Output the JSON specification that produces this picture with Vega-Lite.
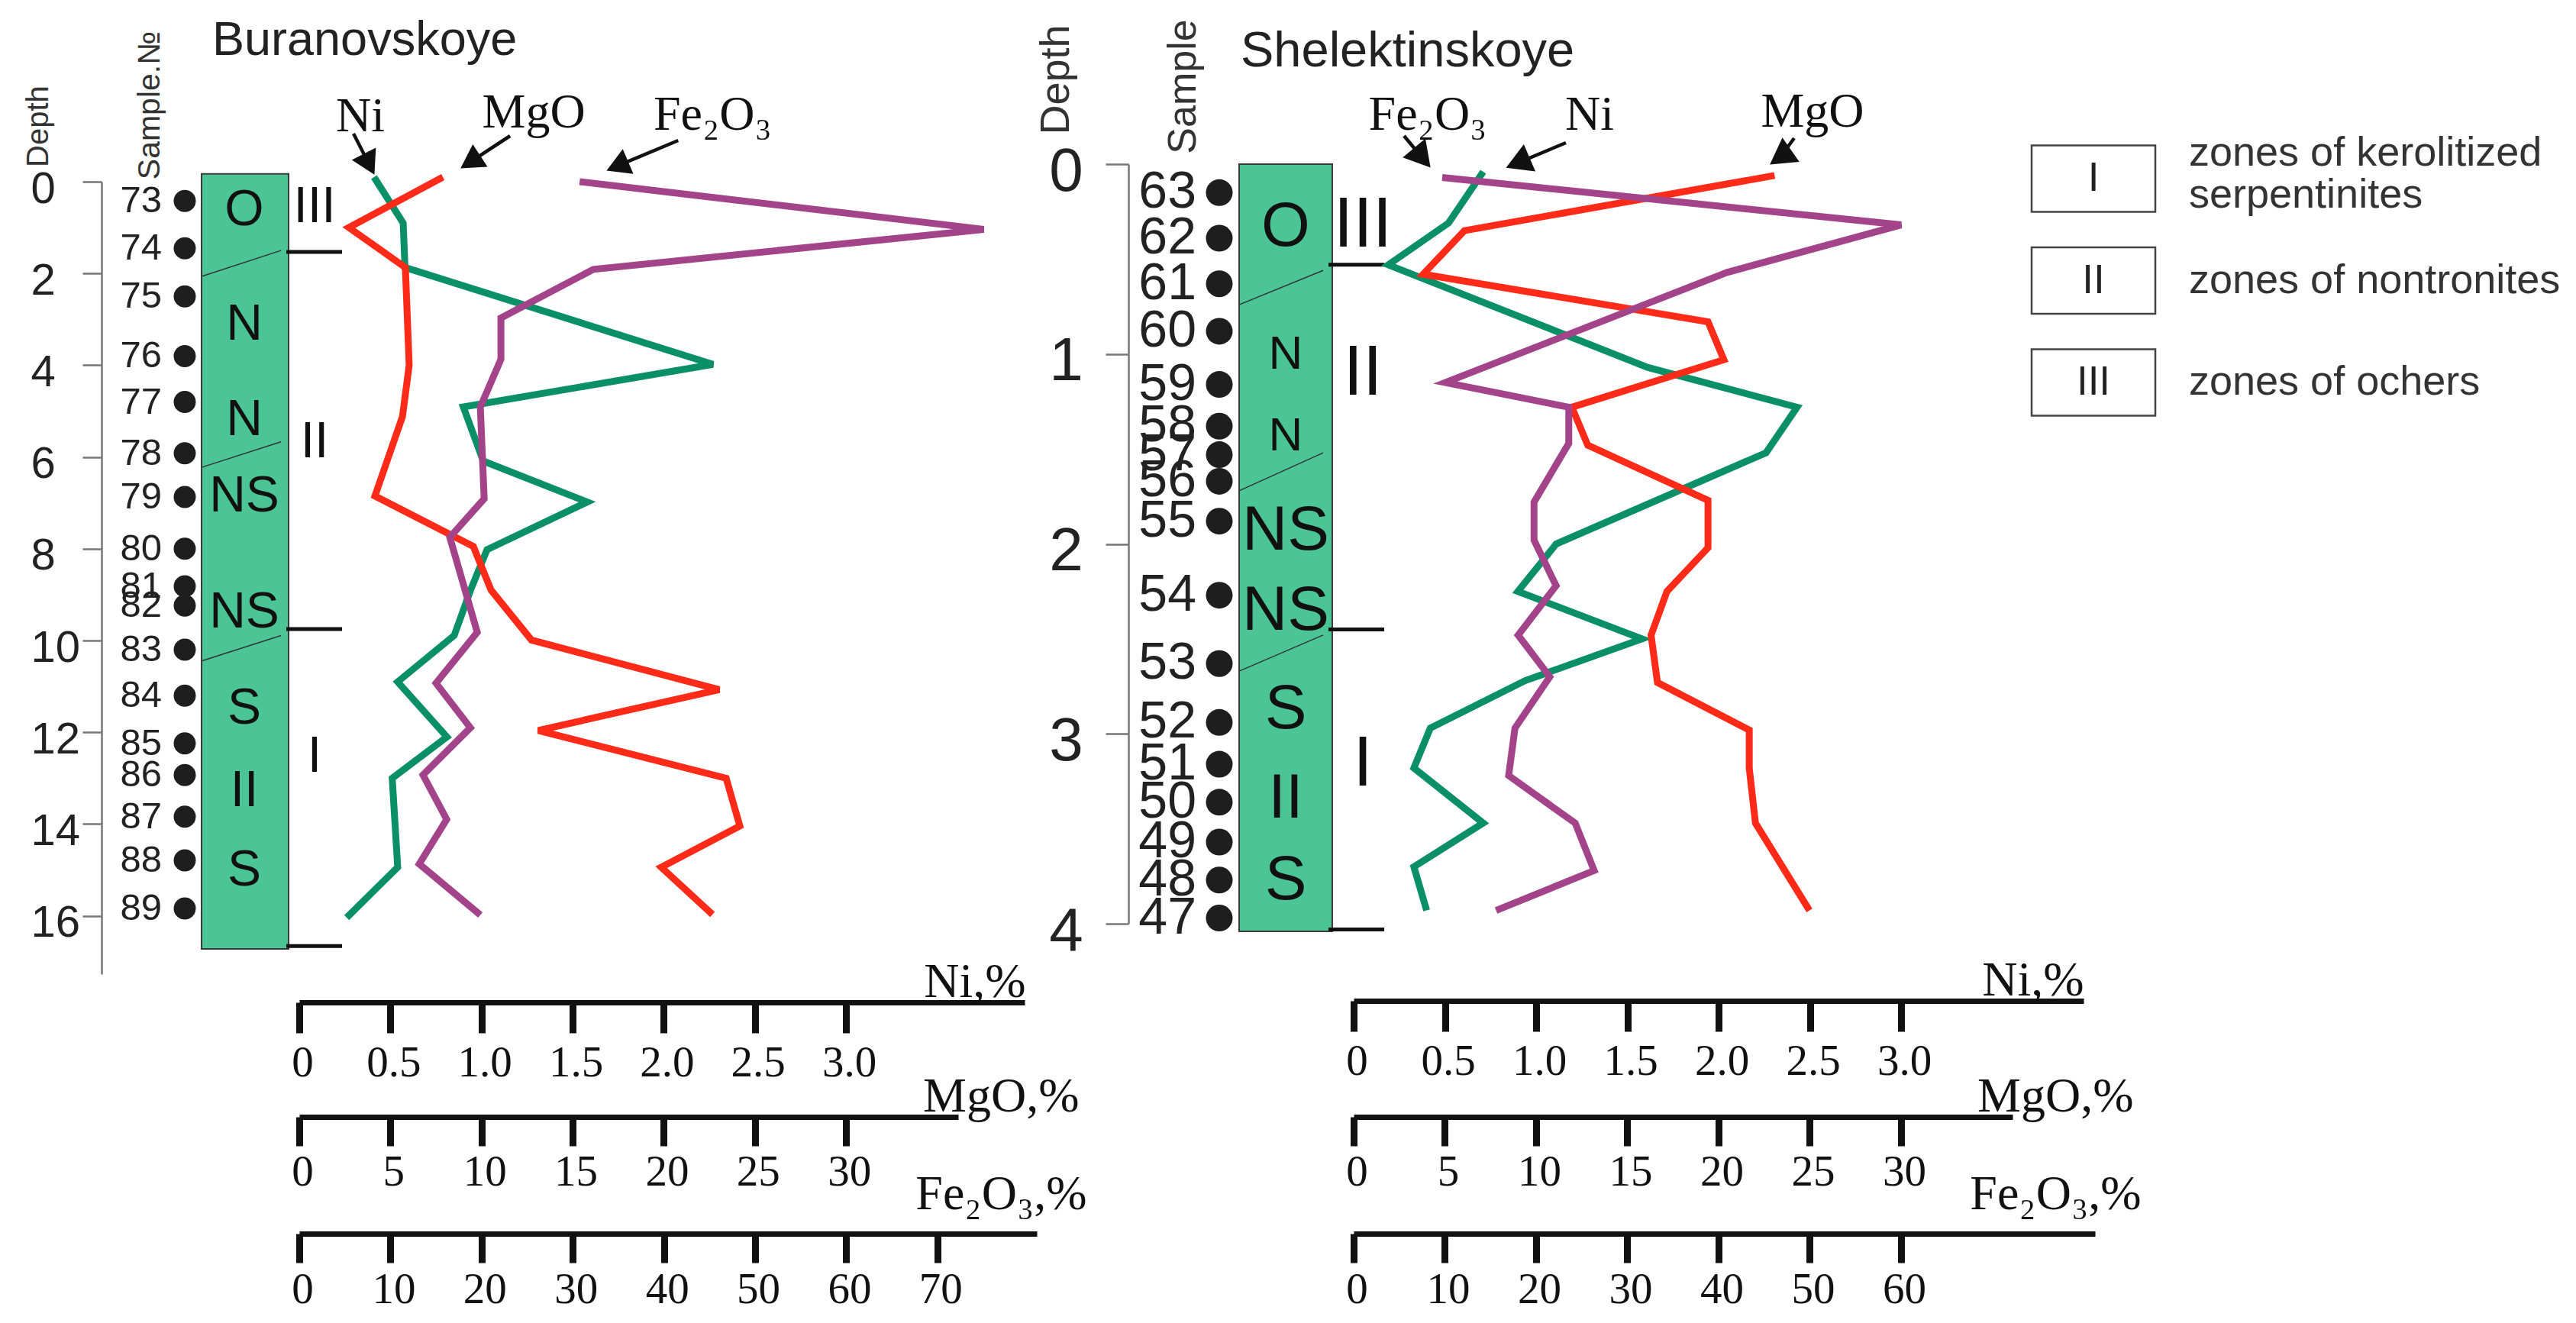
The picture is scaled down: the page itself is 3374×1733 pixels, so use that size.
{
"$schema": "https://vega.github.io/schema/vega-lite/v6.json",
"width": 3374,
"height": 1733,
"autosize": {"type": "none"},
"padding": 0,
"background": "#ffffff",
"config": {"view": {"stroke": null}, "axis": {"grid": false}},
"datasets": {
 "bur_samples": [
  {"sample":"73","depth":0.42},{"sample":"74","depth":1.45},{"sample":"75","depth":2.5},{"sample":"76","depth":3.8},
  {"sample":"77","depth":4.8},{"sample":"78","depth":5.92},{"sample":"79","depth":6.87},{"sample":"80","depth":8.0},
  {"sample":"81","depth":8.82},{"sample":"82","depth":9.24},{"sample":"83","depth":10.2},{"sample":"84","depth":11.2},
  {"sample":"85","depth":12.24},{"sample":"86","depth":12.93},{"sample":"87","depth":13.84},{"sample":"88","depth":14.79},
  {"sample":"89","depth":15.84}
 ],
 "bur_chem": [
  {"element":"Ni","depth":-0.1,"value":0.41},{"element":"Ni","depth":0.9,"value":0.57},{"element":"Ni","depth":1.87,"value":0.58},
  {"element":"Ni","depth":3.98,"value":2.27},{"element":"Ni","depth":4.91,"value":0.9},{"element":"Ni","depth":6.09,"value":1.01},
  {"element":"Ni","depth":6.98,"value":1.58},{"element":"Ni","depth":8.02,"value":1.03},{"element":"Ni","depth":8.9,"value":0.94},
  {"element":"Ni","depth":9.89,"value":0.85},{"element":"Ni","depth":10.9,"value":0.54},{"element":"Ni","depth":12.1,"value":0.81},
  {"element":"Ni","depth":13.0,"value":0.51},{"element":"Ni","depth":14.94,"value":0.54},{"element":"Ni","depth":16.04,"value":0.26},
  {"element":"MgO","depth":-0.1,"value":7.88},{"element":"MgO","depth":1.0,"value":2.72},{"element":"MgO","depth":1.87,"value":5.82},
  {"element":"MgO","depth":4.0,"value":6.03},{"element":"MgO","depth":5.12,"value":5.66},{"element":"MgO","depth":6.85,"value":4.15},
  {"element":"MgO","depth":7.95,"value":9.55},{"element":"MgO","depth":8.9,"value":10.52},{"element":"MgO","depth":9.99,"value":12.74},
  {"element":"MgO","depth":11.07,"value":23.04},{"element":"MgO","depth":11.96,"value":13.11},{"element":"MgO","depth":13.0,"value":23.42},
  {"element":"MgO","depth":14.04,"value":24.17},{"element":"MgO","depth":14.94,"value":19.86},{"element":"MgO","depth":15.97,"value":22.67},
  {"element":"Fe2O3","depth":0.0,"value":30.75},{"element":"Fe2O3","depth":1.04,"value":75.08},{"element":"Fe2O3","depth":1.91,"value":32.26},
  {"element":"Fe2O3","depth":2.97,"value":22.12},{"element":"Fe2O3","depth":3.87,"value":22.12},{"element":"Fe2O3","depth":4.91,"value":19.86},
  {"element":"Fe2O3","depth":6.91,"value":20.28},{"element":"Fe2O3","depth":7.75,"value":16.51},{"element":"Fe2O3","depth":9.82,"value":19.52},
  {"element":"Fe2O3","depth":10.93,"value":15.0},{"element":"Fe2O3","depth":11.9,"value":18.77},{"element":"Fe2O3","depth":12.93,"value":13.57},
  {"element":"Fe2O3","depth":13.9,"value":16.17},{"element":"Fe2O3","depth":14.87,"value":13.16},{"element":"Fe2O3","depth":15.98,"value":19.86}
 ],
 "bur_column": [{"top":-0.17,"bottom":16.72}],
 "bur_litho": [
  {"label":"O","depth":0.62},{"label":"N","depth":3.11},{"label":"N","depth":5.19},{"label":"NS","depth":6.85},
  {"label":"NS","depth":9.38},{"label":"S","depth":11.48},{"label":"II","depth":13.28},{"label":"S","depth":15.0}
 ],
 "bur_contacts": [{"depthLeft":2.06,"depthRight":1.5},{"depthLeft":6.22,"depthRight":5.67},{"depthLeft":10.44,"depthRight":9.89}],
 "bur_zones": [{"zone":"III","labelDepth":0.55,"bottom":1.53},{"zone":"II","labelDepth":5.67,"bottom":9.75},{"zone":"I","labelDepth":12.52,"bottom":16.66}],
 "shl_samples": [
  {"sample":"63","depth":0.15},{"sample":"62","depth":0.39},{"sample":"61","depth":0.63},{"sample":"60","depth":0.88},
  {"sample":"59","depth":1.16},{"sample":"58","depth":1.38},{"sample":"57","depth":1.53},{"sample":"56","depth":1.67},
  {"sample":"55","depth":1.88},{"sample":"54","depth":2.27},{"sample":"53","depth":2.63},{"sample":"52","depth":2.94},
  {"sample":"51","depth":3.16},{"sample":"50","depth":3.36},{"sample":"49","depth":3.57},{"sample":"48","depth":3.77},
  {"sample":"47","depth":3.97}
 ],
 "shl_chem": [
  {"element":"Ni","depth":0.04,"value":0.71},{"element":"Ni","depth":0.31,"value":0.52},{"element":"Ni","depth":0.53,"value":0.19},
  {"element":"Ni","depth":1.07,"value":1.61},{"element":"Ni","depth":1.28,"value":2.43},{"element":"Ni","depth":1.52,"value":2.26},
  {"element":"Ni","depth":2.0,"value":1.11},{"element":"Ni","depth":2.25,"value":0.9},{"element":"Ni","depth":2.5,"value":1.58},
  {"element":"Ni","depth":2.72,"value":0.94},{"element":"Ni","depth":2.97,"value":0.42},{"element":"Ni","depth":3.18,"value":0.33},
  {"element":"Ni","depth":3.47,"value":0.71},{"element":"Ni","depth":3.7,"value":0.33},{"element":"Ni","depth":3.93,"value":0.4},
  {"element":"MgO","depth":0.06,"value":23.07},{"element":"MgO","depth":0.35,"value":6.07},{"element":"MgO","depth":0.58,"value":3.81},
  {"element":"MgO","depth":0.83,"value":19.42},{"element":"MgO","depth":1.03,"value":20.29},{"element":"MgO","depth":1.28,"value":11.96},
  {"element":"MgO","depth":1.48,"value":12.83},{"element":"MgO","depth":1.77,"value":19.42},{"element":"MgO","depth":2.02,"value":19.42},
  {"element":"MgO","depth":2.25,"value":17.17},{"element":"MgO","depth":2.48,"value":16.3},{"element":"MgO","depth":2.73,"value":16.65},
  {"element":"MgO","depth":2.98,"value":21.68},{"element":"MgO","depth":3.18,"value":21.68},{"element":"MgO","depth":3.47,"value":22.02},
  {"element":"MgO","depth":3.93,"value":24.98},
  {"element":"Fe2O3","depth":0.07,"value":9.71},{"element":"Fe2O3","depth":0.32,"value":60.01},{"element":"Fe2O3","depth":0.57,"value":40.93},
  {"element":"Fe2O3","depth":1.15,"value":10.05},{"element":"Fe2O3","depth":1.28,"value":23.58},{"element":"Fe2O3","depth":1.47,"value":23.58},
  {"element":"Fe2O3","depth":1.78,"value":19.77},{"element":"Fe2O3","depth":1.98,"value":19.77},{"element":"Fe2O3","depth":2.22,"value":22.19},
  {"element":"Fe2O3","depth":2.48,"value":18.03},{"element":"Fe2O3","depth":2.7,"value":21.5},{"element":"Fe2O3","depth":2.97,"value":17.68},
  {"element":"Fe2O3","depth":3.22,"value":16.99},{"element":"Fe2O3","depth":3.47,"value":24.28},{"element":"Fe2O3","depth":3.72,"value":26.36},
  {"element":"Fe2O3","depth":3.93,"value":15.61}
 ],
 "shl_column": [{"top":0.0,"bottom":4.04}],
 "shl_litho": [
  {"label":"O","depth":0.33},{"label":"N","depth":1.0},{"label":"N","depth":1.43},{"label":"NS","depth":1.93},
  {"label":"NS","depth":2.35},{"label":"S","depth":2.87},{"label":"II","depth":3.34},{"label":"S","depth":3.77}
 ],
 "shl_contacts": [{"depthLeft":0.74,"depthRight":0.56},{"depthLeft":1.72,"depthRight":1.52},{"depthLeft":2.67,"depthRight":2.48}],
 "shl_zones": [{"zone":"III","labelDepth":0.32,"bottom":0.53},{"zone":"II","labelDepth":1.1,"bottom":2.45},{"zone":"I","labelDepth":3.16,"bottom":4.03}],
 "legend": [
  {"order":1,"zone":"I","description":"zones of kerolitized\nserpentinites"},
  {"order":2,"zone":"II","description":"zones of nontronites"},
  {"order":3,"zone":"III","description":"zones of ochers"}
 ]
},
"layer": [
 {"data":{"name":"bur_column"},"mark":{"type":"rect","fill":"#4BC596","stroke":"#3a3a3a","strokeWidth":2},
  "encoding":{"x":{"datum":-0.5363,"type":"quantitative","scale":{"domain":[0,3.98],"range":[392,1342],"nice":false,"zero":false},"axis":null},"x2":{"datum":-0.0587},
   "y":{"field":"top","type":"quantitative","scale":{"domain":[0,17.27],"range":[238,1276],"nice":false,"zero":false},"axis":null},"y2":{"field":"bottom"}}},
 {"data":{"name":"bur_contacts"},"mark":{"type":"rule","color":"#333333","strokeWidth":1.5},
  "encoding":{"x":{"datum":-0.5321,"type":"quantitative","scale":{"domain":[0,3.98],"range":[392,1342],"nice":false,"zero":false},"axis":null},"x2":{"datum":-0.1005},
   "y":{"field":"depthLeft","type":"quantitative","scale":{"domain":[0,17.27],"range":[238,1276],"nice":false,"zero":false},"axis":null},"y2":{"field":"depthRight"}}},
 {"data":{"name":"bur_litho"},"mark":{"type":"text","font":"Liberation Sans","fontSize":66,"color":"#111111","align":"center","baseline":"middle"},
  "encoding":{"x":{"datum":-0.3016,"type":"quantitative","scale":{"domain":[0,3.98],"range":[392,1342],"nice":false,"zero":false},"axis":null},
   "y":{"field":"depth","type":"quantitative","scale":{"domain":[0,17.27],"range":[238,1276],"nice":false,"zero":false},"axis":null},"text":{"field":"label","type":"nominal"}}},
 {"data":{"name":"bur_zones"},"mark":{"type":"rule","color":"#111111","strokeWidth":5},
  "encoding":{"x":{"datum":-0.0712,"type":"quantitative","scale":{"domain":[0,3.98],"range":[392,1342],"nice":false,"zero":false},"axis":null},"x2":{"datum":0.2346},
   "y":{"field":"bottom","type":"quantitative","scale":{"domain":[0,17.27],"range":[238,1276],"nice":false,"zero":false},"axis":null}}},
 {"data":{"name":"bur_zones"},"mark":{"type":"text","font":"Liberation Sans","fontSize":66,"color":"#111111","align":"center","baseline":"middle"},
  "encoding":{"x":{"datum":0.0838,"type":"quantitative","scale":{"domain":[0,3.98],"range":[392,1342],"nice":false,"zero":false},"axis":null},
   "y":{"field":"labelDepth","type":"quantitative","scale":{"domain":[0,17.27],"range":[238,1276],"nice":false,"zero":false},"axis":null},"text":{"field":"zone","type":"nominal"}}},
 {"data":{"name":"bur_samples"},"mark":{"type":"text","font":"Liberation Sans Narrow, Liberation Sans, sans-serif","fontSize":49,"color":"#222222","align":"right","baseline":"middle"},
  "encoding":{"x":{"datum":-0.7541,"type":"quantitative","scale":{"domain":[0,3.98],"range":[392,1342],"nice":false,"zero":false},"axis":null},
   "y":{"field":"depth","type":"quantitative","scale":{"domain":[0,17.27],"range":[238,1276],"nice":false,"zero":false},"axis":null},"text":{"field":"sample","type":"nominal"}}},
 {"data":{"name":"bur_samples"},"mark":{"type":"circle","color":"#1e1e1e","opacity":1,"size":841},
  "encoding":{"x":{"datum":-0.6284,"type":"quantitative","scale":{"domain":[0,3.98],"range":[392,1342],"nice":false,"zero":false},"axis":null},
   "y":{"field":"depth","type":"quantitative","scale":{"domain":[0,17.27],"range":[238,1276],"nice":false,"zero":false},"axis":null}}},
 {"data":{"values":[{"title":"Buranovskoye"}]},"mark":{"type":"text","font":"Liberation Sans","fontSize":63,"color":"#222222","align":"left","baseline":"alphabetic"},
  "encoding":{"x":{"datum":-0.4776,"type":"quantitative","scale":{"domain":[0,3.98],"range":[392,1342],"nice":false,"zero":false},"axis":null},
   "y":{"datum":-2.7619,"type":"quantitative","scale":{"domain":[0,17.27],"range":[238,1276],"nice":false,"zero":false},"axis":null},"text":{"field":"title","type":"nominal"}}},
 {"data":{"values":[{"title":"Sample.№"}]},"mark":{"type":"text","font":"Liberation Sans","fontSize":41,"color":"#333333","angle":270,"align":"center","baseline":"middle"},
  "encoding":{"x":{"datum":-0.817,"type":"quantitative","scale":{"domain":[0,3.98],"range":[392,1342],"nice":false,"zero":false},"axis":null},
   "y":{"datum":-1.6638,"type":"quantitative","scale":{"domain":[0,17.27],"range":[238,1276],"nice":false,"zero":false},"axis":null},"text":{"field":"title","type":"nominal"}}},
 {"data":{"name":"bur_chem"},"transform":[{"filter":"datum.element == 'Ni'"}],"mark":{"type":"line","color":"#0B8F66","strokeWidth":9,"strokeMiterLimit":4},
  "encoding":{
   "x":{"field":"value","type":"quantitative","scale":{"domain":[0,3.98],"range":[392,1342],"nice":false,"zero":false},
    "axis":{"orient":"bottom","offset":-420,"values":[0,0.5,1,1.5,2,2.5,3],"labelExpr":"datum.value == 0 ? '0' : format(datum.value, '.1f')","title":"Ni,%","titleX":1343,"titleY":-8,"titleAngle":0,"titleAlign":"right","titleAnchor":"end","titleBaseline":"alphabetic","titleFont":"Liberation Serif","titleFontSize":64,"titleFontWeight":"normal","titleColor":"#111111","domainColor":"#111111","domainWidth":7,"tickColor":"#111111","tickWidth":9,"tickSize":40,"labelFont":"Liberation Serif","labelFontSize":57,"labelColor":"#111111","labelPadding":11,"labelOffset":4,"labelFlush":false,"labelOverlap":false,"grid":false}},
   "y":{"field":"depth","type":"quantitative","scale":{"domain":[0,17.27],"range":[238,1276],"nice":false,"zero":false},
    "axis":{"orient":"left","offset":-133,"values":[0,2,4,6,8,10,12,14,16],"format":"d","title":"Depth","titleX":-83,"titleY":165,"titleAngle":270,"titleAlign":"center","titleBaseline":"middle","titleFont":"Liberation Sans","titleFontSize":40,"titleFontWeight":"normal","titleColor":"#333333","domainColor":"#777777","domainWidth":2.5,"tickColor":"#777777","tickWidth":2.5,"tickSize":25,"labelFont":"Liberation Sans","labelFontSize":58,"labelColor":"#222222","labelAlign":"left","labelBaseline":"middle","labelPadding":68,"labelOffset":10,"labelFlush":false,"labelOverlap":false,"grid":false}},
   "order":{"field":"depth","type":"quantitative"}}},
 {"data":{"values":[{"label":"Ni"}]},"mark":{"type":"text","font":"Liberation Serif","fontSize":64,"color":"#111111","align":"center","baseline":"alphabetic"},
  "encoding":{"x":{"datum":0.3352,"type":"quantitative","scale":{"domain":[0,3.98],"range":[392,1342],"nice":false,"zero":false},"axis":null},
   "y":{"datum":-1.0981,"type":"quantitative","scale":{"domain":[0,17.27],"range":[238,1276],"nice":false,"zero":false},"axis":null},"text":{"field":"label","type":"nominal"}}},
 {"data":{"values":[{"label":"Ni"}]},"mark":{"type":"rule","color":"#111111","strokeWidth":4.5},
  "encoding":{"x":{"datum":0.2975,"type":"quantitative","scale":{"domain":[0,3.98],"range":[392,1342],"nice":false,"zero":false},"axis":null},
   "y":{"datum":-1.0482,"type":"quantitative","scale":{"domain":[0,17.27],"range":[238,1276],"nice":false,"zero":false},"axis":null},"x2":{"datum":0.3833},"y2":{"datum":-0.3793}}},
 {"data":{"values":[{"label":"Ni"}]},"mark":{"type":"point","shape":"triangle-up","filled":true,"color":"#111111","opacity":1,"size":1250,"angle":153},
  "encoding":{"x":{"datum":0.3833,"type":"quantitative","scale":{"domain":[0,3.98],"range":[392,1342],"nice":false,"zero":false},"axis":null},
   "y":{"datum":-0.3793,"type":"quantitative","scale":{"domain":[0,17.27],"range":[238,1276],"nice":false,"zero":false},"axis":null}}},
 {"data":{"name":"bur_chem"},"transform":[{"filter":"datum.element == 'MgO'"}],"mark":{"type":"line","color":"#FF2A18","strokeWidth":9,"strokeMiterLimit":4},
  "encoding":{
   "x":{"field":"value","type":"quantitative","scale":{"domain":[0,36.15],"range":[392,1255],"nice":false,"zero":false},
    "axis":{"orient":"bottom","offset":-270,"values":[0,5,10,15,20,25,30],"format":"d","title":"MgO,%","titleX":1413,"titleY":-8,"titleAngle":0,"titleAlign":"right","titleAnchor":"end","titleBaseline":"alphabetic","titleFont":"Liberation Serif","titleFontSize":64,"titleFontWeight":"normal","titleColor":"#111111","domainColor":"#111111","domainWidth":7,"tickColor":"#111111","tickWidth":9,"tickSize":38,"labelFont":"Liberation Serif","labelFontSize":57,"labelColor":"#111111","labelPadding":6,"labelOffset":4,"labelFlush":false,"labelOverlap":false,"grid":false}},
   "y":{"field":"depth","type":"quantitative","scale":{"domain":[0,17.27],"range":[238,1276],"nice":false,"zero":false},"axis":null},
   "order":{"field":"depth","type":"quantitative"}}},
 {"data":{"values":[{"label":"MgO"}]},"mark":{"type":"text","font":"Liberation Serif","fontSize":64,"color":"#111111","align":"center","baseline":"alphabetic"},
  "encoding":{"x":{"datum":12.862,"type":"quantitative","scale":{"domain":[0,36.15],"range":[392,1255],"nice":false,"zero":false},"axis":null},
   "y":{"datum":-1.1813,"type":"quantitative","scale":{"domain":[0,17.27],"range":[238,1276],"nice":false,"zero":false},"axis":null},"text":{"field":"label","type":"nominal"}}},
 {"data":{"values":[{"label":"MgO"}]},"mark":{"type":"rule","color":"#111111","strokeWidth":4.5},
  "encoding":{"x":{"datum":11.563,"type":"quantitative","scale":{"domain":[0,36.15],"range":[392,1255],"nice":false,"zero":false},"axis":null},
   "y":{"datum":-0.9983,"type":"quantitative","scale":{"domain":[0,17.27],"range":[238,1276],"nice":false,"zero":false},"axis":null},"x2":{"datum":9.385},"y2":{"datum":-0.4309}}},
 {"data":{"values":[{"label":"MgO"}]},"mark":{"type":"point","shape":"triangle-up","filled":true,"color":"#111111","opacity":1,"size":1250,"angle":237},
  "encoding":{"x":{"datum":9.385,"type":"quantitative","scale":{"domain":[0,36.15],"range":[392,1255],"nice":false,"zero":false},"axis":null},
   "y":{"datum":-0.4309,"type":"quantitative","scale":{"domain":[0,17.27],"range":[238,1276],"nice":false,"zero":false},"axis":null}}},
 {"data":{"name":"bur_chem"},"transform":[{"filter":"datum.element == 'Fe2O3'"}],"mark":{"type":"line","color":"#A3448A","strokeWidth":9,"strokeMiterLimit":4},
  "encoding":{
   "x":{"field":"value","type":"quantitative","scale":{"domain":[0,80.9],"range":[392,1358],"nice":false,"zero":false},
    "axis":{"orient":"bottom","offset":-117,"values":[0,10,20,30,40,50,60,70],"format":"d","title":"Fe₂O₃,%","titleX":1423,"titleY":-33,"titleAngle":0,"titleAlign":"right","titleAnchor":"end","titleBaseline":"alphabetic","titleFont":"Liberation Serif","titleFontSize":64,"titleFontWeight":"normal","titleColor":"#111111","domainColor":"#111111","domainWidth":7,"tickColor":"#111111","tickWidth":9,"tickSize":38,"labelFont":"Liberation Serif","labelFontSize":57,"labelColor":"#111111","labelPadding":7,"labelOffset":4,"labelFlush":false,"labelOverlap":false,"grid":false}},
   "y":{"field":"depth","type":"quantitative","scale":{"domain":[0,17.27],"range":[238,1276],"nice":false,"zero":false},"axis":null},
   "order":{"field":"depth","type":"quantitative"}}},
 {"data":{"values":[{"label":"Fe₂O₃"}]},"mark":{"type":"text","font":"Liberation Serif","fontSize":64,"color":"#111111","align":"center","baseline":"alphabetic"},
  "encoding":{"x":{"datum":45.333,"type":"quantitative","scale":{"domain":[0,80.9],"range":[392,1358],"nice":false,"zero":false},"axis":null},
   "y":{"datum":-1.1314,"type":"quantitative","scale":{"domain":[0,17.27],"range":[238,1276],"nice":false,"zero":false},"axis":null},"text":{"field":"label","type":"nominal"}}},
 {"data":{"values":[{"label":"Fe₂O₃"}]},"mark":{"type":"rule","color":"#111111","strokeWidth":4.5},
  "encoding":{"x":{"datum":41.562,"type":"quantitative","scale":{"domain":[0,80.9],"range":[392,1358],"nice":false,"zero":false},"axis":null},
   "y":{"datum":-0.8984,"type":"quantitative","scale":{"domain":[0,17.27],"range":[238,1276],"nice":false,"zero":false},"axis":null},"x2":{"datum":34.884},"y2":{"datum":-0.3427}}},
 {"data":{"values":[{"label":"Fe₂O₃"}]},"mark":{"type":"point","shape":"triangle-up","filled":true,"color":"#111111","opacity":1,"size":1250,"angle":247},
  "encoding":{"x":{"datum":34.884,"type":"quantitative","scale":{"domain":[0,80.9],"range":[392,1358],"nice":false,"zero":false},"axis":null},
   "y":{"datum":-0.3427,"type":"quantitative","scale":{"domain":[0,17.27],"range":[238,1276],"nice":false,"zero":false},"axis":null}}},

 {"data":{"name":"shl_column"},"mark":{"type":"rect","fill":"#4BC596","stroke":"#3a3a3a","strokeWidth":2},
  "encoding":{"x":{"datum":-0.6276,"type":"quantitative","scale":{"domain":[0,4.0],"range":[1773,2729],"nice":false,"zero":false},"axis":null},"x2":{"datum":-0.1172},
   "y":{"field":"top","type":"quantitative","scale":{"domain":[0,4],"range":[215,1210],"nice":false,"zero":false},"axis":null},"y2":{"field":"bottom"}}},
 {"data":{"name":"shl_contacts"},"mark":{"type":"rule","color":"#333333","strokeWidth":1.5},
  "encoding":{"x":{"datum":-0.6276,"type":"quantitative","scale":{"domain":[0,4.0],"range":[1773,2729],"nice":false,"zero":false},"axis":null},"x2":{"datum":-0.1674},
   "y":{"field":"depthLeft","type":"quantitative","scale":{"domain":[0,4],"range":[215,1210],"nice":false,"zero":false},"axis":null},"y2":{"field":"depthRight"}}},
 {"data":{"name":"shl_litho"},"transform":[{"filter":"datum.label == 'N'"}],"mark":{"type":"text","font":"Liberation Sans","fontSize":62,"color":"#111111","align":"center","baseline":"middle"},
  "encoding":{"x":{"datum":-0.3724,"type":"quantitative","scale":{"domain":[0,4.0],"range":[1773,2729],"nice":false,"zero":false},"axis":null},
   "y":{"field":"depth","type":"quantitative","scale":{"domain":[0,4],"range":[215,1210],"nice":false,"zero":false},"axis":null},"text":{"field":"label","type":"nominal"}}},
 {"data":{"name":"shl_litho"},"transform":[{"filter":"datum.label != 'N'"}],"mark":{"type":"text","font":"Liberation Sans","fontSize":82,"color":"#111111","align":"center","baseline":"middle"},
  "encoding":{"x":{"datum":-0.3724,"type":"quantitative","scale":{"domain":[0,4.0],"range":[1773,2729],"nice":false,"zero":false},"axis":null},
   "y":{"field":"depth","type":"quantitative","scale":{"domain":[0,4],"range":[215,1210],"nice":false,"zero":false},"axis":null},"text":{"field":"label","type":"nominal"}}},
 {"data":{"name":"shl_zones"},"mark":{"type":"rule","color":"#111111","strokeWidth":5},
  "encoding":{"x":{"datum":-0.1381,"type":"quantitative","scale":{"domain":[0,4.0],"range":[1773,2729],"nice":false,"zero":false},"axis":null},"x2":{"datum":0.1674},
   "y":{"field":"bottom","type":"quantitative","scale":{"domain":[0,4],"range":[215,1210],"nice":false,"zero":false},"axis":null}}},
 {"data":{"name":"shl_zones"},"mark":{"type":"text","font":"Liberation Sans","fontSize":92,"color":"#111111","align":"center","baseline":"middle"},
  "encoding":{"x":{"datum":0.0502,"type":"quantitative","scale":{"domain":[0,4.0],"range":[1773,2729],"nice":false,"zero":false},"axis":null},
   "y":{"field":"labelDepth","type":"quantitative","scale":{"domain":[0,4],"range":[215,1210],"nice":false,"zero":false},"axis":null},"text":{"field":"zone","type":"nominal"}}},
 {"data":{"name":"shl_samples"},"mark":{"type":"text","font":"Liberation Sans Narrow, Liberation Sans, sans-serif","fontSize":68,"color":"#222222","align":"right","baseline":"middle"},
  "encoding":{"x":{"datum":-0.8619,"type":"quantitative","scale":{"domain":[0,4.0],"range":[1773,2729],"nice":false,"zero":false},"axis":null},
   "y":{"field":"depth","type":"quantitative","scale":{"domain":[0,4],"range":[215,1210],"nice":false,"zero":false},"axis":null},"text":{"field":"sample","type":"nominal"}}},
 {"data":{"name":"shl_samples"},"mark":{"type":"circle","color":"#1e1e1e","opacity":1,"size":1225},
  "encoding":{"x":{"datum":-0.7364,"type":"quantitative","scale":{"domain":[0,4.0],"range":[1773,2729],"nice":false,"zero":false},"axis":null},
   "y":{"field":"depth","type":"quantitative","scale":{"domain":[0,4],"range":[215,1210],"nice":false,"zero":false},"axis":null}}},
 {"data":{"values":[{"title":"Shelektinskoye"}]},"mark":{"type":"text","font":"Liberation Sans","fontSize":65,"color":"#222222","align":"left","baseline":"alphabetic"},
  "encoding":{"x":{"datum":-0.6192,"type":"quantitative","scale":{"domain":[0,4.0],"range":[1773,2729],"nice":false,"zero":false},"axis":null},
   "y":{"datum":-0.5146,"type":"quantitative","scale":{"domain":[0,4],"range":[215,1210],"nice":false,"zero":false},"axis":null},"text":{"field":"title","type":"nominal"}}},
 {"data":{"values":[{"title":"Sample"}]},"mark":{"type":"text","font":"Liberation Sans","fontSize":52,"color":"#333333","angle":270,"align":"center","baseline":"middle"},
  "encoding":{"x":{"datum":-0.9331,"type":"quantitative","scale":{"domain":[0,4.0],"range":[1773,2729],"nice":false,"zero":false},"axis":null},
   "y":{"datum":-0.408,"type":"quantitative","scale":{"domain":[0,4],"range":[215,1210],"nice":false,"zero":false},"axis":null},"text":{"field":"title","type":"nominal"}}},
 {"data":{"name":"shl_chem"},"transform":[{"filter":"datum.element == 'Ni'"}],"mark":{"type":"line","color":"#0B8F66","strokeWidth":9,"strokeMiterLimit":4},
  "encoding":{
   "x":{"field":"value","type":"quantitative","scale":{"domain":[0,4.0],"range":[1773,2729],"nice":false,"zero":false},
    "axis":{"orient":"bottom","offset":-422,"values":[0,0.5,1,1.5,2,2.5,3],"labelExpr":"datum.value == 0 ? '0' : format(datum.value, '.1f')","title":"Ni,%","titleX":2729,"titleY":-8,"titleAngle":0,"titleAlign":"right","titleAnchor":"end","titleBaseline":"alphabetic","titleFont":"Liberation Serif","titleFontSize":64,"titleFontWeight":"normal","titleColor":"#111111","domainColor":"#111111","domainWidth":7,"tickColor":"#111111","tickWidth":9,"tickSize":40,"labelFont":"Liberation Serif","labelFontSize":57,"labelColor":"#111111","labelPadding":11,"labelOffset":4,"labelFlush":false,"labelOverlap":false,"grid":false}},
   "y":{"field":"depth","type":"quantitative","scale":{"domain":[0,4],"range":[215,1210],"nice":false,"zero":false},
    "axis":{"orient":"left","offset":-1478,"values":[0,1,2,3,4],"format":"d","title":"Depth","titleX":-95,"titleY":104,"titleAngle":270,"titleAlign":"center","titleBaseline":"middle","titleFont":"Liberation Sans","titleFontSize":54,"titleFontWeight":"normal","titleColor":"#333333","domainColor":"#777777","domainWidth":2.5,"tickColor":"#777777","tickWidth":2.5,"tickSize":30,"labelFont":"Liberation Sans","labelFontSize":80,"labelColor":"#222222","labelAlign":"center","labelBaseline":"middle","labelPadding":52,"labelOffset":10,"labelFlush":false,"labelOverlap":false,"grid":false}},
   "order":{"field":"depth","type":"quantitative"}}},
 {"data":{"values":[{"label":"Ni"}]},"mark":{"type":"text","font":"Liberation Serif","fontSize":64,"color":"#111111","align":"center","baseline":"alphabetic"},
  "encoding":{"x":{"datum":1.2929,"type":"quantitative","scale":{"domain":[0,4.0],"range":[1773,2729],"nice":false,"zero":false},"axis":null},
   "y":{"datum":-0.1809,"type":"quantitative","scale":{"domain":[0,4],"range":[215,1210],"nice":false,"zero":false},"axis":null},"text":{"field":"label","type":"nominal"}}},
 {"data":{"values":[{"label":"Ni"}]},"mark":{"type":"rule","color":"#111111","strokeWidth":4.5},
  "encoding":{"x":{"datum":1.1632,"type":"quantitative","scale":{"domain":[0,4.0],"range":[1773,2729],"nice":false,"zero":false},"axis":null},
   "y":{"datum":-0.1126,"type":"quantitative","scale":{"domain":[0,4],"range":[215,1210],"nice":false,"zero":false},"axis":null},"x2":{"datum":0.8996},"y2":{"datum":-0.0068}}},
 {"data":{"values":[{"label":"Ni"}]},"mark":{"type":"point","shape":"triangle-up","filled":true,"color":"#111111","opacity":1,"size":1500,"angle":247},
  "encoding":{"x":{"datum":0.8996,"type":"quantitative","scale":{"domain":[0,4.0],"range":[1773,2729],"nice":false,"zero":false},"axis":null},
   "y":{"datum":-0.0068,"type":"quantitative","scale":{"domain":[0,4],"range":[215,1210],"nice":false,"zero":false},"axis":null}}},
 {"data":{"name":"shl_chem"},"transform":[{"filter":"datum.element == 'MgO'"}],"mark":{"type":"line","color":"#FF2A18","strokeWidth":9,"strokeMiterLimit":4},
  "encoding":{
   "x":{"field":"value","type":"quantitative","scale":{"domain":[0,36.11],"range":[1773,2636],"nice":false,"zero":false},
    "axis":{"orient":"bottom","offset":-270,"values":[0,5,10,15,20,25,30],"format":"d","title":"MgO,%","titleX":2794,"titleY":-8,"titleAngle":0,"titleAlign":"right","titleAnchor":"end","titleBaseline":"alphabetic","titleFont":"Liberation Serif","titleFontSize":64,"titleFontWeight":"normal","titleColor":"#111111","domainColor":"#111111","domainWidth":7,"tickColor":"#111111","tickWidth":9,"tickSize":38,"labelFont":"Liberation Serif","labelFontSize":57,"labelColor":"#111111","labelPadding":6,"labelOffset":4,"labelFlush":false,"labelOverlap":false,"grid":false}},
   "y":{"field":"depth","type":"quantitative","scale":{"domain":[0,4],"range":[215,1210],"nice":false,"zero":false},"axis":null},
   "order":{"field":"depth","type":"quantitative"}}},
 {"data":{"values":[{"label":"MgO"}]},"mark":{"type":"text","font":"Liberation Serif","fontSize":64,"color":"#111111","align":"center","baseline":"alphabetic"},
  "encoding":{"x":{"datum":25.146,"type":"quantitative","scale":{"domain":[0,36.11],"range":[1773,2636],"nice":false,"zero":false},"axis":null},
   "y":{"datum":-0.197,"type":"quantitative","scale":{"domain":[0,4],"range":[215,1210],"nice":false,"zero":false},"axis":null},"text":{"field":"label","type":"nominal"}}},
 {"data":{"values":[{"label":"MgO"}]},"mark":{"type":"rule","color":"#111111","strokeWidth":4.5},
  "encoding":{"x":{"datum":24.142,"type":"quantitative","scale":{"domain":[0,36.11],"range":[1773,2636],"nice":false,"zero":false},"axis":null},
   "y":{"datum":-0.1367,"type":"quantitative","scale":{"domain":[0,4],"range":[215,1210],"nice":false,"zero":false},"axis":null},"x2":{"datum":23.385},"y2":{"datum":-0.037}}},
 {"data":{"values":[{"label":"MgO"}]},"mark":{"type":"point","shape":"triangle-up","filled":true,"color":"#111111","opacity":1,"size":1500,"angle":235},
  "encoding":{"x":{"datum":23.385,"type":"quantitative","scale":{"domain":[0,36.11],"range":[1773,2636],"nice":false,"zero":false},"axis":null},
   "y":{"datum":-0.037,"type":"quantitative","scale":{"domain":[0,4],"range":[215,1210],"nice":false,"zero":false},"axis":null}}},
 {"data":{"name":"shl_chem"},"transform":[{"filter":"datum.element == 'Fe2O3'"}],"mark":{"type":"line","color":"#A3448A","strokeWidth":9,"strokeMiterLimit":4},
  "encoding":{
   "x":{"field":"value","type":"quantitative","scale":{"domain":[0,81.26],"range":[1773,2744],"nice":false,"zero":false},
    "axis":{"orient":"bottom","offset":-117,"values":[0,10,20,30,40,50,60],"format":"d","title":"Fe₂O₃,%","titleX":2804,"titleY":-33,"titleAngle":0,"titleAlign":"right","titleAnchor":"end","titleBaseline":"alphabetic","titleFont":"Liberation Serif","titleFontSize":64,"titleFontWeight":"normal","titleColor":"#111111","domainColor":"#111111","domainWidth":7,"tickColor":"#111111","tickWidth":9,"tickSize":38,"labelFont":"Liberation Serif","labelFontSize":57,"labelColor":"#111111","labelPadding":7,"labelOffset":4,"labelFlush":false,"labelOverlap":false,"grid":false}},
   "y":{"field":"depth","type":"quantitative","scale":{"domain":[0,4],"range":[215,1210],"nice":false,"zero":false},"axis":null},
   "order":{"field":"depth","type":"quantitative"}}},
 {"data":{"values":[{"label":"Fe₂O₃"}]},"mark":{"type":"text","font":"Liberation Serif","fontSize":64,"color":"#111111","align":"center","baseline":"alphabetic"},
  "encoding":{"x":{"datum":8.117,"type":"quantitative","scale":{"domain":[0,81.26],"range":[1773,2744],"nice":false,"zero":false},"axis":null},
   "y":{"datum":-0.1809,"type":"quantitative","scale":{"domain":[0,4],"range":[215,1210],"nice":false,"zero":false},"axis":null},"text":{"field":"label","type":"nominal"}}},
 {"data":{"values":[{"label":"Fe₂O₃"}]},"mark":{"type":"rule","color":"#111111","strokeWidth":4.5},
  "encoding":{"x":{"datum":5.523,"type":"quantitative","scale":{"domain":[0,81.26],"range":[1773,2744],"nice":false,"zero":false},"axis":null},
   "y":{"datum":-0.1487,"type":"quantitative","scale":{"domain":[0,4],"range":[215,1210],"nice":false,"zero":false},"axis":null},"x2":{"datum":7.523},"y2":{"datum":-0.0334}}},
 {"data":{"values":[{"label":"Fe₂O₃"}]},"mark":{"type":"point","shape":"triangle-up","filled":true,"color":"#111111","opacity":1,"size":1500,"angle":140},
  "encoding":{"x":{"datum":7.523,"type":"quantitative","scale":{"domain":[0,81.26],"range":[1773,2744],"nice":false,"zero":false},"axis":null},
   "y":{"datum":-0.0334,"type":"quantitative","scale":{"domain":[0,4],"range":[215,1210],"nice":false,"zero":false},"axis":null}}},

 {"data":{"name":"legend"},"mark":{"type":"point","shape":"M-1,-0.537L1,-0.537L1,0.537L-1,0.537Z","size":26244,"filled":false,"color":"#444444","strokeWidth":2.5,"opacity":1},
  "encoding":{"x":{"datum":0.5,"type":"quantitative","scale":{"domain":[0,1],"range":[2661,2823],"nice":false,"zero":false},"axis":null},
   "y":{"field":"order","type":"quantitative","scale":{"domain":[1,3],"range":[234,501],"nice":false,"zero":false},"axis":null}}},
 {"data":{"name":"legend"},"mark":{"type":"text","font":"Liberation Sans","fontSize":53,"color":"#222222","align":"center","baseline":"middle"},
  "encoding":{"x":{"datum":0.5,"type":"quantitative","scale":{"domain":[0,1],"range":[2661,2823],"nice":false,"zero":false},"axis":null},
   "y":{"field":"order","type":"quantitative","scale":{"domain":[1,3],"range":[234,501],"nice":false,"zero":false},"axis":null},"text":{"field":"zone","type":"nominal"}}},
 {"data":{"name":"legend"},"transform":[{"filter":"datum.order == 1"}],"mark":{"type":"text","font":"Liberation Sans","fontSize":54,"color":"#333333","align":"left","baseline":"middle","lineBreak":"\n","lineHeight":55,"dy":-33},
  "encoding":{"x":{"datum":1.2716,"type":"quantitative","scale":{"domain":[0,1],"range":[2661,2823],"nice":false,"zero":false},"axis":null},
   "y":{"field":"order","type":"quantitative","scale":{"domain":[1,3],"range":[234,501],"nice":false,"zero":false},"axis":null},"text":{"field":"description","type":"nominal"}}},
 {"data":{"name":"legend"},"transform":[{"filter":"datum.order != 1"}],"mark":{"type":"text","font":"Liberation Sans","fontSize":54,"color":"#333333","align":"left","baseline":"middle"},
  "encoding":{"x":{"datum":1.2716,"type":"quantitative","scale":{"domain":[0,1],"range":[2661,2823],"nice":false,"zero":false},"axis":null},
   "y":{"field":"order","type":"quantitative","scale":{"domain":[1,3],"range":[234,501],"nice":false,"zero":false},"axis":null},"text":{"field":"description","type":"nominal"}}}
],
"resolve": {"scale": {"x": "independent", "y": "independent"}}
}
